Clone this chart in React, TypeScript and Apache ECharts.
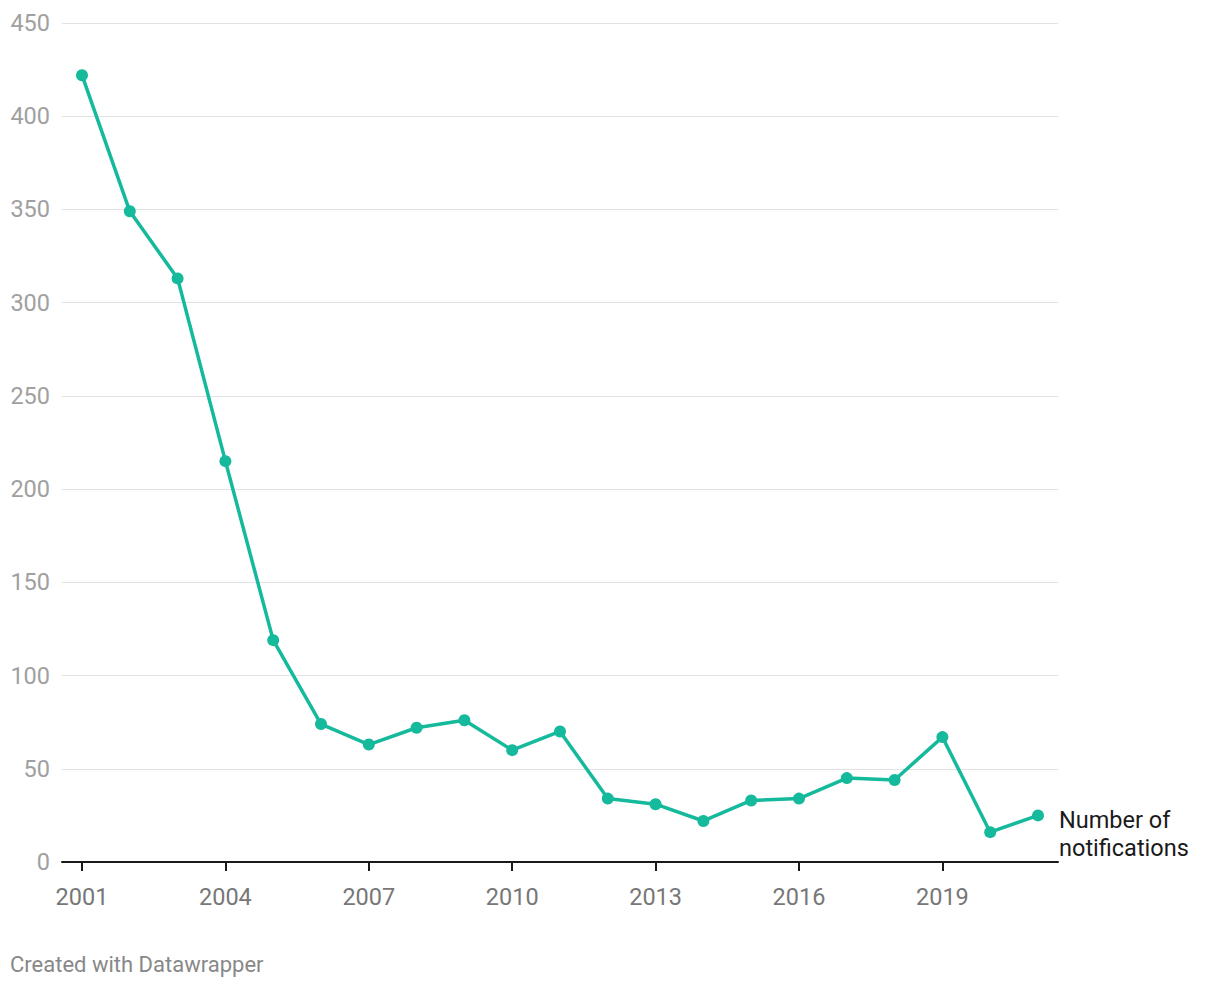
import React, { useEffect, useRef } from "react";
import * as echarts from "echarts";

const years = [2001, 2002, 2003, 2004, 2005, 2006, 2007, 2008, 2009, 2010, 2011, 2012, 2013, 2014, 2015, 2016, 2017, 2018, 2019, 2020, 2021];
const notifications = [422, 349, 313, 215, 119, 74, 63, 72, 76, 60, 70, 34, 31, 22, 33, 34, 45, 44, 67, 16, 25];
const xTicks = [2001, 2004, 2007, 2010, 2013, 2016, 2019];
const seriesLabel = "Number of\nnotifications";
const credit = "Created with Datawrapper";

const FONT = "Roboto, 'Noto Sans', sans-serif";
const TEAL = "#15b99b";

export default function App() {
  const ref = useRef<HTMLDivElement>(null);
  useEffect(() => {
    document.body.style.margin = "0";
    if (!ref.current) return;
    const chart = echarts.init(ref.current, undefined, { renderer: "svg" });
    const pad = 20 / 47.8;
    chart.setOption({
      animation: false,
      textStyle: { fontFamily: FONT },
      grid: { left: 62, right: 162, top: 23, bottom: 126, containLabel: false },
      xAxis: {
        type: "value",
        min: years[0] - pad,
        max: years[years.length - 1] + pad,
        splitLine: { show: false },
        axisLine: { show: true, lineStyle: { color: "#1a1a1a", width: 2 } },
        axisTick: { show: true, customValues: xTicks, length: 9, lineStyle: { color: "#1a1a1a", width: 2 } },
        axisLabel: {
          customValues: xTicks,
          formatter: (v: number) => String(Math.round(v)),
          fontSize: 23.5,
          color: "#777777",
          margin: 23,
          fontFamily: FONT,
        },
      },
      yAxis: {
        type: "value",
        min: 0,
        max: 450,
        interval: 50,
        axisLine: { show: false },
        axisTick: { show: false },
        splitLine: { show: true, lineStyle: { color: "#e2e2e2", width: 1 } },
        axisLabel: { fontSize: 23.5, color: "#a0a0a0", margin: 12, fontFamily: FONT },
      },
      series: [
        {
          type: "line",
          data: years.map((y, i) => [y, notifications[i]]),
          symbol: "circle",
          symbolSize: 12,
          showSymbol: true,
          lineStyle: { color: TEAL, width: 3.5 },
          itemStyle: { color: TEAL },
          z: 3,
          endLabel: {
            show: true,
            formatter: () => seriesLabel,
            distance: 21,
            offset: [0, 19],
            fontSize: 23.5,
            lineHeight: 28,
            color: "#1a1a1a",
            fontFamily: FONT,
          },
        },
      ],
      graphic: [
        {
          type: "text",
          left: 10,
          top: 953,
          style: { text: credit, fontSize: 22, fill: "#888888", fontFamily: FONT },
        },
      ],
    });
    return () => chart.dispose();
  }, []);
  return <div ref={ref} style={{ width: 1220, height: 988 }} />;
}
